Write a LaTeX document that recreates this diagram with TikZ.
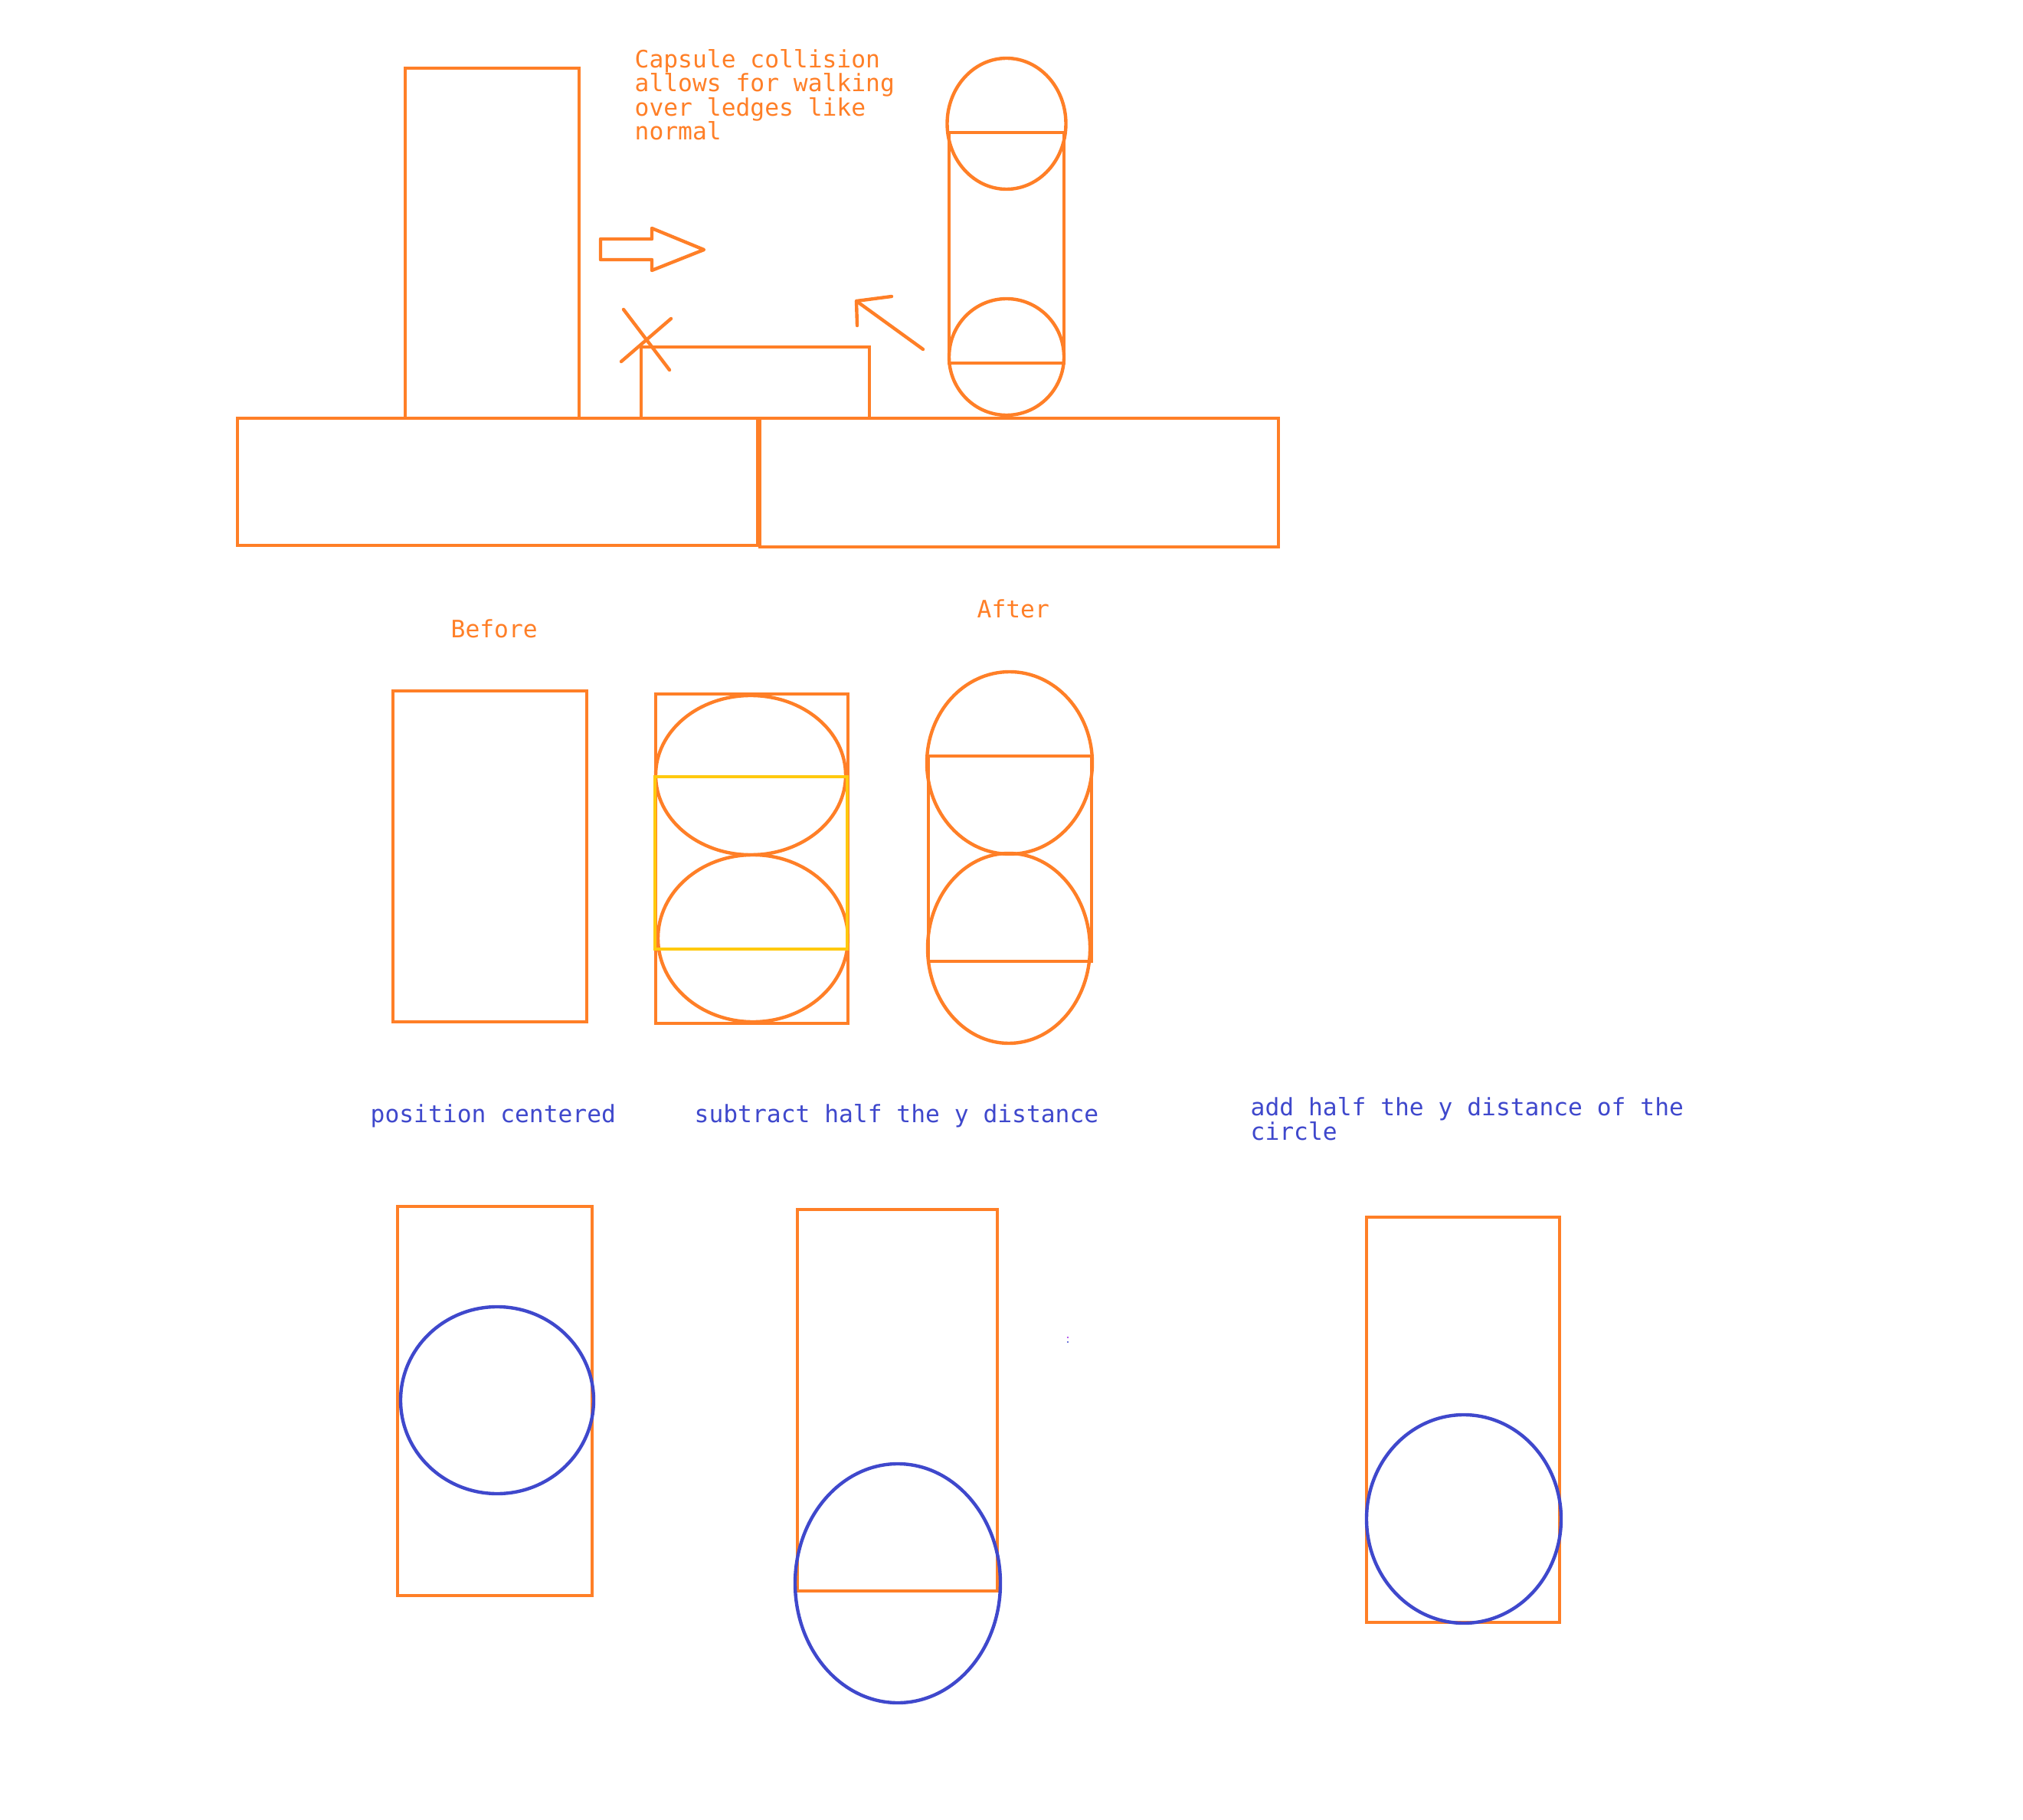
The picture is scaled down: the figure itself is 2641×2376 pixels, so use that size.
\documentclass[tikz,border=0pt]{standalone}
\usepackage{fontspec}
\setmonofont{DejaVu Sans Mono}
\usetikzlibrary{positioning}
\definecolor{paintorange}{RGB}{255,127,39}
\definecolor{paintblue}{RGB}{63,72,204}
\definecolor{paintyellow}{RGB}{255,201,14}

\begin{document}
\begin{tikzpicture}[x=0.01cm, y=-0.01cm,
    outline/.style={draw=paintorange, line width=1.25pt},
    hitbox/.style={draw=paintblue, line width=1.25pt},
    midbox/.style={draw=paintyellow, line width=1.25pt},
    stroke/.style={draw=paintorange, line width=1.25pt, line cap=round, line join=round},
    orangetext/.style={text=paintorange, font=\ttfamily\fontsize{8.9}{9}\selectfont, inner sep=0pt, align=left, anchor=base west},
    bluetext/.style={orangetext, text=paintblue}]

\useasboundingbox (0,0) rectangle (2641,2376);

% Top: walking over a ledge
\draw[outline] (529,89) rectangle (756,546);
\draw[outline] (310,546) rectangle (989,712);
\draw[outline] (992,546) rectangle (1669,714);
\draw[outline] (837,546) -- (837,453) -- (1135,453) -- (1135,546);

\draw[stroke] (784,312) -- (851,312) -- (851,298) -- (919,326) -- (851,353) -- (851,339) -- (784,339) -- cycle;
\draw[stroke] (814,404) -- (874,483);
\draw[stroke] (811,472) -- (876,416);
\draw[stroke] (1205,456) -- (1118,393);
\draw[stroke] (1164,387) -- (1118,393) -- (1119,425);

\draw[outline] (1314,161.5) ellipse [x radius=77.5, y radius=85.5];
\draw[outline] (1239,173) rectangle (1389,474);
\draw[outline] (1314,466) ellipse [x radius=75, y radius=76];

% base of a wrapped node sits on its last line
\node[orangetext] (capnote) at (828,183) {Capsule collision\\allows for walking\\over ledges like\\normal};

% Middle: before / after
\node[orangetext] (before) at (588,833) {Before};
\node[orangetext] (after) at (1275,807) {After};

\draw[outline] (513,902) rectangle (766,1334);

\draw[outline] (856,906) rectangle (1107,1336);
\draw[outline] (980,1012) ellipse [x radius=124, y radius=104];
\draw[outline] (983,1225) ellipse [x radius=124, y radius=109];
\draw[midbox] (855,1014) rectangle (1106,1239);

\draw[outline] (1318,996) ellipse [x radius=108, y radius=119];
\draw[outline] (1212,987) rectangle (1425,1255);
\draw[outline] (1317,1238) ellipse [x radius=106, y radius=124];

% Bottom: placing the circle
\node[bluetext] (centred) at (483,1465) {position centered};
\node[bluetext] (subtract) at (906,1465) {subtract half the y distance};
\node[bluetext] (addhalf) at (1632,1488) {add half the y distance of the\\circle};

\draw[outline] (519,1575) rectangle (773,2083);
\draw[hitbox] (649,1828) ellipse [x radius=126, y radius=122];

\draw[outline] (1041,1579) rectangle (1302,2077);
\draw[hitbox] (1172,2067) ellipse [x radius=134, y radius=156];

\draw[outline] (1784,1589) rectangle (2036,2118);
\draw[hitbox] (1911,1983) ellipse [x radius=127, y radius=136];

\fill[paintblue] (1394,1752) circle [radius=1.2];
\fill[paintblue!50!magenta] (1394,1746) circle [radius=1.2];

\end{tikzpicture}
\end{document}
